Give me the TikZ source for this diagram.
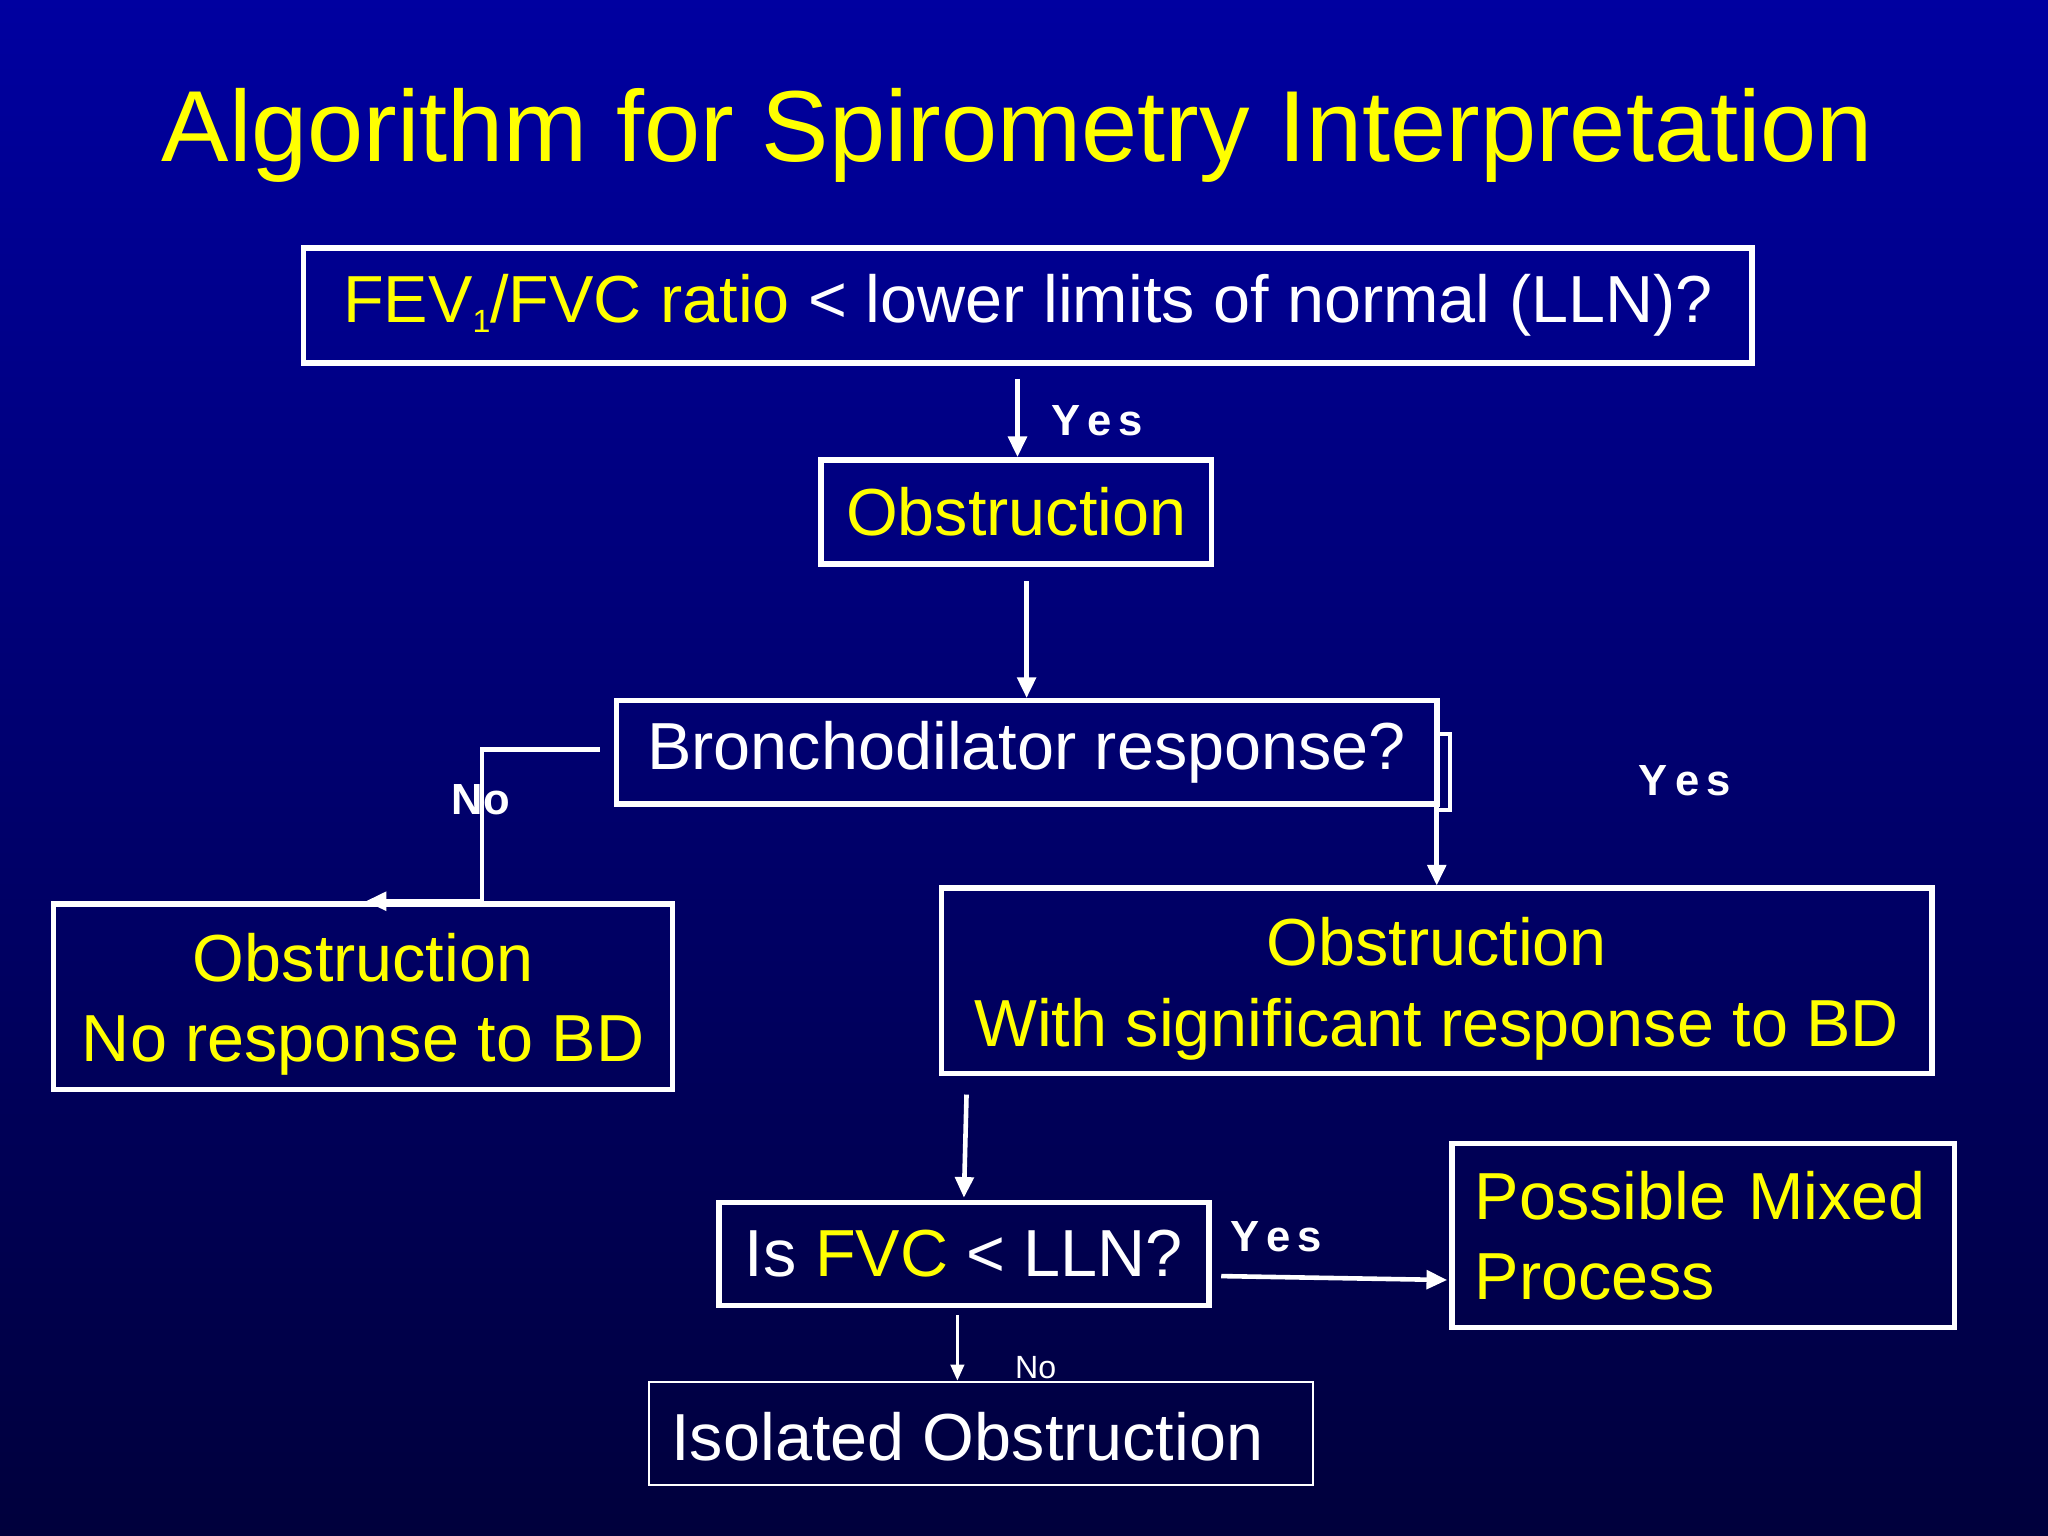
\documentclass[tikz,border=0pt]{standalone}
\usepackage{fontspec}
\setmainfont{Liberation Sans}
\usetikzlibrary{arrows.meta}
\definecolor{ylw}{RGB}{255,255,0}
\begin{document}
\begin{tikzpicture}[x=0.02cm,y=-0.02cm,
  box/.style={draw=white,line width=2.4pt,inner sep=0pt,font=\fontsize{29}{35}\selectfont},
  lbl/.style={text=white,font=\bfseries\fontsize{19}{22}\selectfont},
  arr/.style={draw=white,line width=2pt,-{Triangle[length=9pt,width=8pt]}}]
\shade[top color={rgb,255:red,0;green,0;blue,160},bottom color={rgb,255:red,0;green,0;blue,60}] (0,0) rectangle (1568,1176);
\useasboundingbox (0,0) rectangle (1568,1176);
\node[text=ylw,font=\fontsize{44}{50}\selectfont] (title) at (779,104) {Algorithm for Spirometry Interpretation};
\node[box,minimum width=1109*0.02cm,minimum height=88*0.02cm] (top) at (787,234)
 {\color{ylw}FEV{\fontsize{14}{16}\selectfont\raisebox{-4pt}{1}}/FVC ratio \color{white}< lower limits of normal (LLN)?};
\node[box,text=ylw,minimum width=299*0.02cm,minimum height=80*0.02cm] (obs) at (778,392) {Obstruction};
\node[box,text=white,minimum width=628*0.02cm,minimum height=79*0.02cm] (bd) at (786,576) {Bronchodilator response?};
\node[box,draw=none,text=ylw,align=center] (nor) at (278,769) {Obstruction\\No response to BD};
\draw[white,line width=2.4pt] (41,692) rectangle (515,834);
\node[box,draw=none,text=ylw,align=center] (sig) at (1100,757) {Obstruction\\With significant response to BD};
\draw[white,line width=2.4pt] (721,680) rectangle (1479,822);
\node[box,text=white,minimum width=375*0.02cm,minimum height=79*0.02cm] (fvc) at (738,960) {Is \textcolor{ylw}{FVC} < LLN?};
\node[box,text=ylw,align=left,text width=350*0.02cm,minimum width=385*0.02cm,minimum height=141*0.02cm] (mix) at (1304,946) {Possible Mixed\\Process};
\draw[white,line width=1pt] (497,1058) rectangle (1005,1137);
\node[box,draw=none,text=white,anchor=west] (iso) at (512,1100) {Isolated Obstruction};
\coordinate (a1) at (779,290); \coordinate (a2) at (779,350);
\draw[arr] (a1) -- (a2);
\node[lbl] at (840,322) {Y\,e\,s};
\coordinate (b1) at (786,445);
\draw[arr] (b1) -- (bd.north -| b1);
\coordinate (c1) at (459,574); \coordinate (c2) at (369,574); \coordinate (c3) at (369,690); \coordinate (c4) at (280,690);
\draw[arr] (c1) -- (c2) -- (c3) -- (c4);
\node[lbl] at (368,612) {No};
\coordinate (d0) at (1100,615); \coordinate (d1) at (1100,678);
\draw[arr] (d0) -- (d1);
\coordinate (e0) at (1100,562); \coordinate (e1) at (1110,562); \coordinate (e2) at (1110,620); \coordinate (e3) at (1100,620);
\draw[white,line width=2pt] (e0) -- (e1) -- (e2) -- (e3);
\node[lbl] at (1290,598) {Y\,e\,s};
\coordinate (f0) at (740,838);
\draw[arr] (f0) -- (738,917);
\coordinate (g0) at (935,977); \coordinate (g1) at (1108,980);
\draw[arr] (g0) -- (g1);
\node[lbl] at (977,947) {Y\,e\,s};
\coordinate (h0) at (733,1007); \coordinate (h1) at (733,1057);
\draw[draw=white,line width=1pt,-{Triangle[length=7pt,width=6pt]}] (h0) -- (h1);
\node[text=white,font=\fontsize{14}{16}\selectfont] at (793,1047) {No};
\end{tikzpicture}
\end{document}
